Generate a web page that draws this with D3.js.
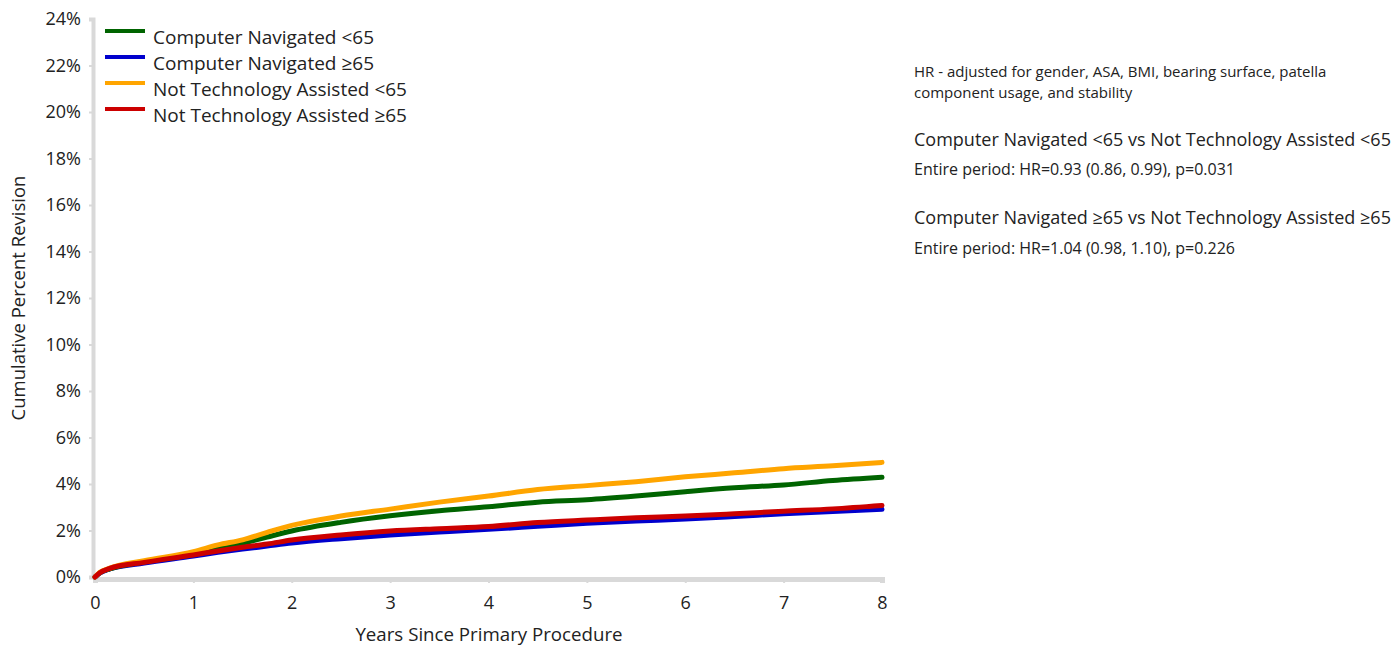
<!DOCTYPE html>
<html>
<head>
<meta charset="utf-8">
<script src="https://cdn.jsdelivr.net/npm/d3@7"></script>
<style>
  html, body { margin: 0; padding: 0; background: #fff; }
  svg { display: block; font-family: "Open Sans", "Noto Sans", sans-serif; }
</style>
</head>
<body>
<svg id="chart" width="1397" height="646"></svg>
<script>
// ---- data ----
const years = [0, 0.05, 0.15, 0.5, 1, 1.25, 1.5, 1.75, 2, 2.5, 3, 3.5, 4, 4.5, 5, 5.5, 6, 6.5, 7, 7.5, 8];
const cnUnder65  = [0, 0.18, 0.35, 0.65, 0.97, 1.2, 1.45, 1.72, 1.98, 2.35, 2.63, 2.85, 3.02, 3.22, 3.32, 3.48, 3.67, 3.84, 3.96, 4.15, 4.29];
const cnOver65   = [0, 0.17, 0.35, 0.60, 0.90, 1.06, 1.20, 1.33, 1.46, 1.65, 1.81, 1.93, 2.05, 2.18, 2.31, 2.41, 2.49, 2.60, 2.72, 2.82, 2.91];
const ntaUnder65 = [0, 0.20, 0.38, 0.70, 1.09, 1.38, 1.60, 1.92, 2.22, 2.62, 2.92, 3.22, 3.48, 3.76, 3.93, 4.10, 4.31, 4.48, 4.66, 4.78, 4.93];
const ntaOver65  = [0, 0.18, 0.37, 0.63, 0.95, 1.12, 1.28, 1.42, 1.59, 1.81, 1.98, 2.08, 2.17, 2.34, 2.45, 2.55, 2.62, 2.72, 2.83, 2.93, 3.08];
const seriesNames = ["Computer Navigated <65", "Computer Navigated \u226565", "Not Technology Assisted <65", "Not Technology Assisted \u226565"];
const seriesColors = ["#006400", "#0000cd", "#ffa500", "#cc0000"];
const seriesValues = [cnUnder65, cnOver65, ntaUnder65, ntaOver65];
const drawOrder = [1, 0, 2, 3];
const yTicks = [0, 2, 4, 6, 8, 10, 12, 14, 16, 18, 20, 22, 24];
const xTicks = [0, 1, 2, 3, 4, 5, 6, 7, 8];
const xTitle = "Years Since Primary Procedure";
const yTitle = "Cumulative Percent Revision";
const noteLines = ["HR - adjusted for gender, ASA, BMI, bearing surface, patella", "component usage, and stability"];
const comparisons = [
  { title: "Computer Navigated <65 vs Not Technology Assisted <65", detail: "Entire period: HR=0.93 (0.86, 0.99), p=0.031" },
  { title: "Computer Navigated \u226565 vs Not Technology Assisted \u226565", detail: "Entire period: HR=1.04 (0.98, 1.10), p=0.226" }
];

// ---- layout ----
const svg = d3.select("#chart");
const x = d3.scaleLinear().domain([0, 8]).range([95, 882]);
const y = d3.scaleLinear().domain([0, 24]).range([577, 19]);
const axisColor = "#d9d9d9";
const textColor = "#222";

// y axis
const yAxis = svg.append("g").attr("transform", "translate(93,0)")
  .call(d3.axisLeft(y).tickValues(yTicks).tickFormat(d => d + "%").tickSize(4).tickPadding(8));
yAxis.select(".domain").attr("stroke", axisColor).attr("stroke-width", 4);
yAxis.selectAll(".tick line").attr("stroke", axisColor).attr("stroke-width", 2);
yAxis.selectAll(".tick text").attr("font-size", 18).attr("fill", textColor)
  .attr("font-family", "'Open Sans', sans-serif");

// x axis
const xAxis = svg.append("g").attr("transform", "translate(0,579)")
  .call(d3.axisBottom(x).tickValues(xTicks).tickSize(4).tickPadding(13));
xAxis.select(".domain").attr("stroke", axisColor).attr("stroke-width", 5);
xAxis.selectAll(".tick line").attr("stroke", axisColor).attr("stroke-width", 2);
xAxis.selectAll(".tick text").attr("font-size", 18).attr("fill", textColor)
  .attr("font-family", "'Open Sans', sans-serif");

// titles
svg.append("text").attr("x", 489).attr("y", 641).attr("text-anchor", "middle")
  .attr("font-size", 18.7).attr("fill", textColor).text(xTitle);
svg.append("text").attr("transform", "translate(25,298) rotate(-90)").attr("text-anchor", "middle")
  .attr("font-size", 18.5).attr("fill", textColor).text(yTitle);

// lines
const line = d3.line().x((d, i) => x(years[i])).y(d => y(d)).curve(d3.curveMonotoneX);
drawOrder.forEach(k => {
  svg.append("path").datum(seriesValues[k])
    .attr("fill", "none").attr("stroke", seriesColors[k]).attr("stroke-width", 5)
    .attr("stroke-linecap", "round").attr("stroke-linejoin", "round")
    .attr("d", line);
});

// legend
const legend = svg.append("g");
seriesNames.forEach((name, i) => {
  const cy = 31 + i * 26;
  legend.append("line").attr("x1", 105).attr("x2", 145).attr("y1", cy).attr("y2", cy)
    .attr("stroke", seriesColors[i]).attr("stroke-width", 4);
  legend.append("text").attr("x", 153).attr("y", cy + 13).attr("font-size", 19)
    .attr("fill", textColor).text(name);
});

// annotations
const ann = svg.append("g");
noteLines.forEach((t, i) => {
  ann.append("text").attr("x", 914).attr("y", 77 + i * 21).attr("font-size", 15)
    .attr("fill", textColor).text(t);
});
comparisons.forEach((c, i) => {
  ann.append("text").attr("x", 914).attr("y", 146 + i * 78).attr("font-size", 18)
    .attr("fill", textColor).text(c.title);
  ann.append("text").attr("x", 914).attr("y", 175 + i * 79).attr("font-size", 16)
    .attr("fill", textColor).text(c.detail);
});
</script>
</body>
</html>
